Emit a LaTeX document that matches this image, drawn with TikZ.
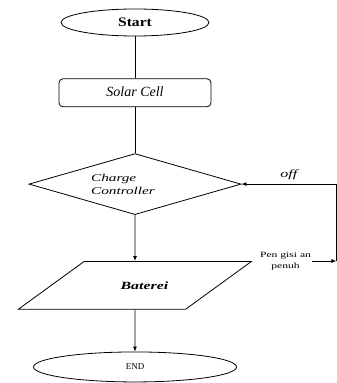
\documentclass[tikz,border=0pt]{standalone}
\usepackage{fontspec}
\setmainfont{Liberation Serif}
\newfontfamily\widefont[FakeStretch=1.45]{Liberation Serif}
\newfontfamily\startfont[FakeStretch=1.2]{Liberation Serif}
\usetikzlibrary{positioning,shapes.geometric,arrows.meta}

\begin{document}
\begin{tikzpicture}[x=1pt,y=1pt,line width=0.8pt,
    terminal/.style={draw,ellipse,inner sep=0pt},
    process/.style={draw,rectangle,rounded corners=4pt,minimum width=152pt,minimum height=28pt},
    decision/.style={draw,diamond,aspect=3.5,inner sep=0pt,minimum width=212pt,minimum height=61pt},
    iobox/.style={draw,trapezium,trapezium left angle=36,trapezium right angle=144,
        trapezium stretches body,minimum width=233pt,inner xsep=0pt,inner ysep=20pt},
    note/.style={align=center,inner sep=1pt,font=\widefont\fontsize{8}{11}\selectfont},
    flow/.style={-{Latex[length=5pt,width=4pt]}}]
                \useasboundingbox (0,0) rectangle (337,383);
                \node[terminal,minimum width=148pt,minimum height=27pt] (start) at (135,360.5)
                    {\startfont\fontsize{13}{15}\selectfont\bfseries Start};
                \node[process,below=42pt of start] (solar) {\fontsize{14}{16}\selectfont\itshape Solar Cell\vphantom{y}};
                \node[decision,below=46pt of solar,align=left,
                    font=\widefont\fontsize{10.5}{13}\selectfont\itshape] (ctrl) {Charge\\Controller\hspace*{24pt}};
                \node[iobox,below=46pt of ctrl] (bat)
                    {\hspace*{19pt}\widefont\fontsize{11}{13}\selectfont\bfseries\itshape Baterei};
                \node[terminal,minimum width=203pt,minimum height=30pt,below=42pt of bat] (end)
                    {\fontsize{9}{11}\selectfont END};
                \node[note,right=6pt of bat.top right corner] (full) {Pen gisi an\\penuh};
                \coordinate[right=95pt of ctrl.east] (turn);

                \draw (start) -- (solar);
                \draw (solar) -- (ctrl);
                \draw[flow] (ctrl) -- (bat);
                \draw[flow] (bat) -- (end);
                \draw[flow] (full.east) -- (full.east -| turn);
                \draw (full.east -| turn) -- (turn);
                \draw[flow] (turn) -- node[above=1pt,font=\widefont\fontsize{11}{13}\selectfont\itshape] {off} (ctrl.east);
\end{tikzpicture}
\end{document}
